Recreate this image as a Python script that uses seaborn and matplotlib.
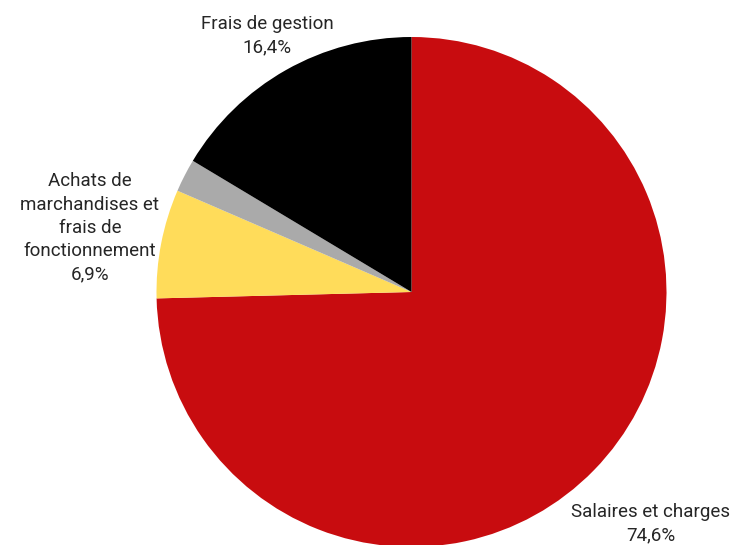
import matplotlib
matplotlib.use("Agg")
import matplotlib.pyplot as plt
import seaborn as sns

# data (clockwise from 12 o'clock)
categories = ["Salaires et charges", "Achats de\nmarchandises et\nfrais de\nfonctionnement", "Autres", "Frais de gestion"]
shares = [74.6, 6.9, 2.1, 16.4]
show_label = [True, True, False, True]
colors = sns.color_palette(["#C80C0F", "#FFDC5A", "#AAAAAA", "#000000"])

sns.set_theme(style="white")
plt.rcParams["font.family"] = ["Roboto", "DejaVu Sans"]

W, H = 735, 545
fig = plt.figure(figsize=(W / 100, H / 100), dpi=100)
ax = fig.add_axes([0, 0, 1, 1])

# pie centre / radius in pixel units (y up)
cx, cy, r = 411.5, H - 292, 255
ax.pie(shares, colors=colors, startangle=90, counterclock=False,
       center=(cx, cy), radius=r, frame=True,
       wedgeprops=dict(linewidth=0))
ax.set_xlim(0, W)
ax.set_ylim(0, H)
ax.set_aspect("equal")
ax.axis("off")

# label anchors (pixel coords from top-left)
anchors = [(651, 524), (90, 228), None, (267, 36)]
for cat, val, show, pos in zip(categories, shares, show_label, anchors):
    if not show:
        continue
    txt = f"{cat}\n{val:.1f}%".replace(".", ",")
    ax.text(pos[0], H - pos[1], txt, ha="center", va="center",
            fontsize=13.5, color="#262626", linespacing=1.38)

fig.savefig("out.png", dpi=100)
